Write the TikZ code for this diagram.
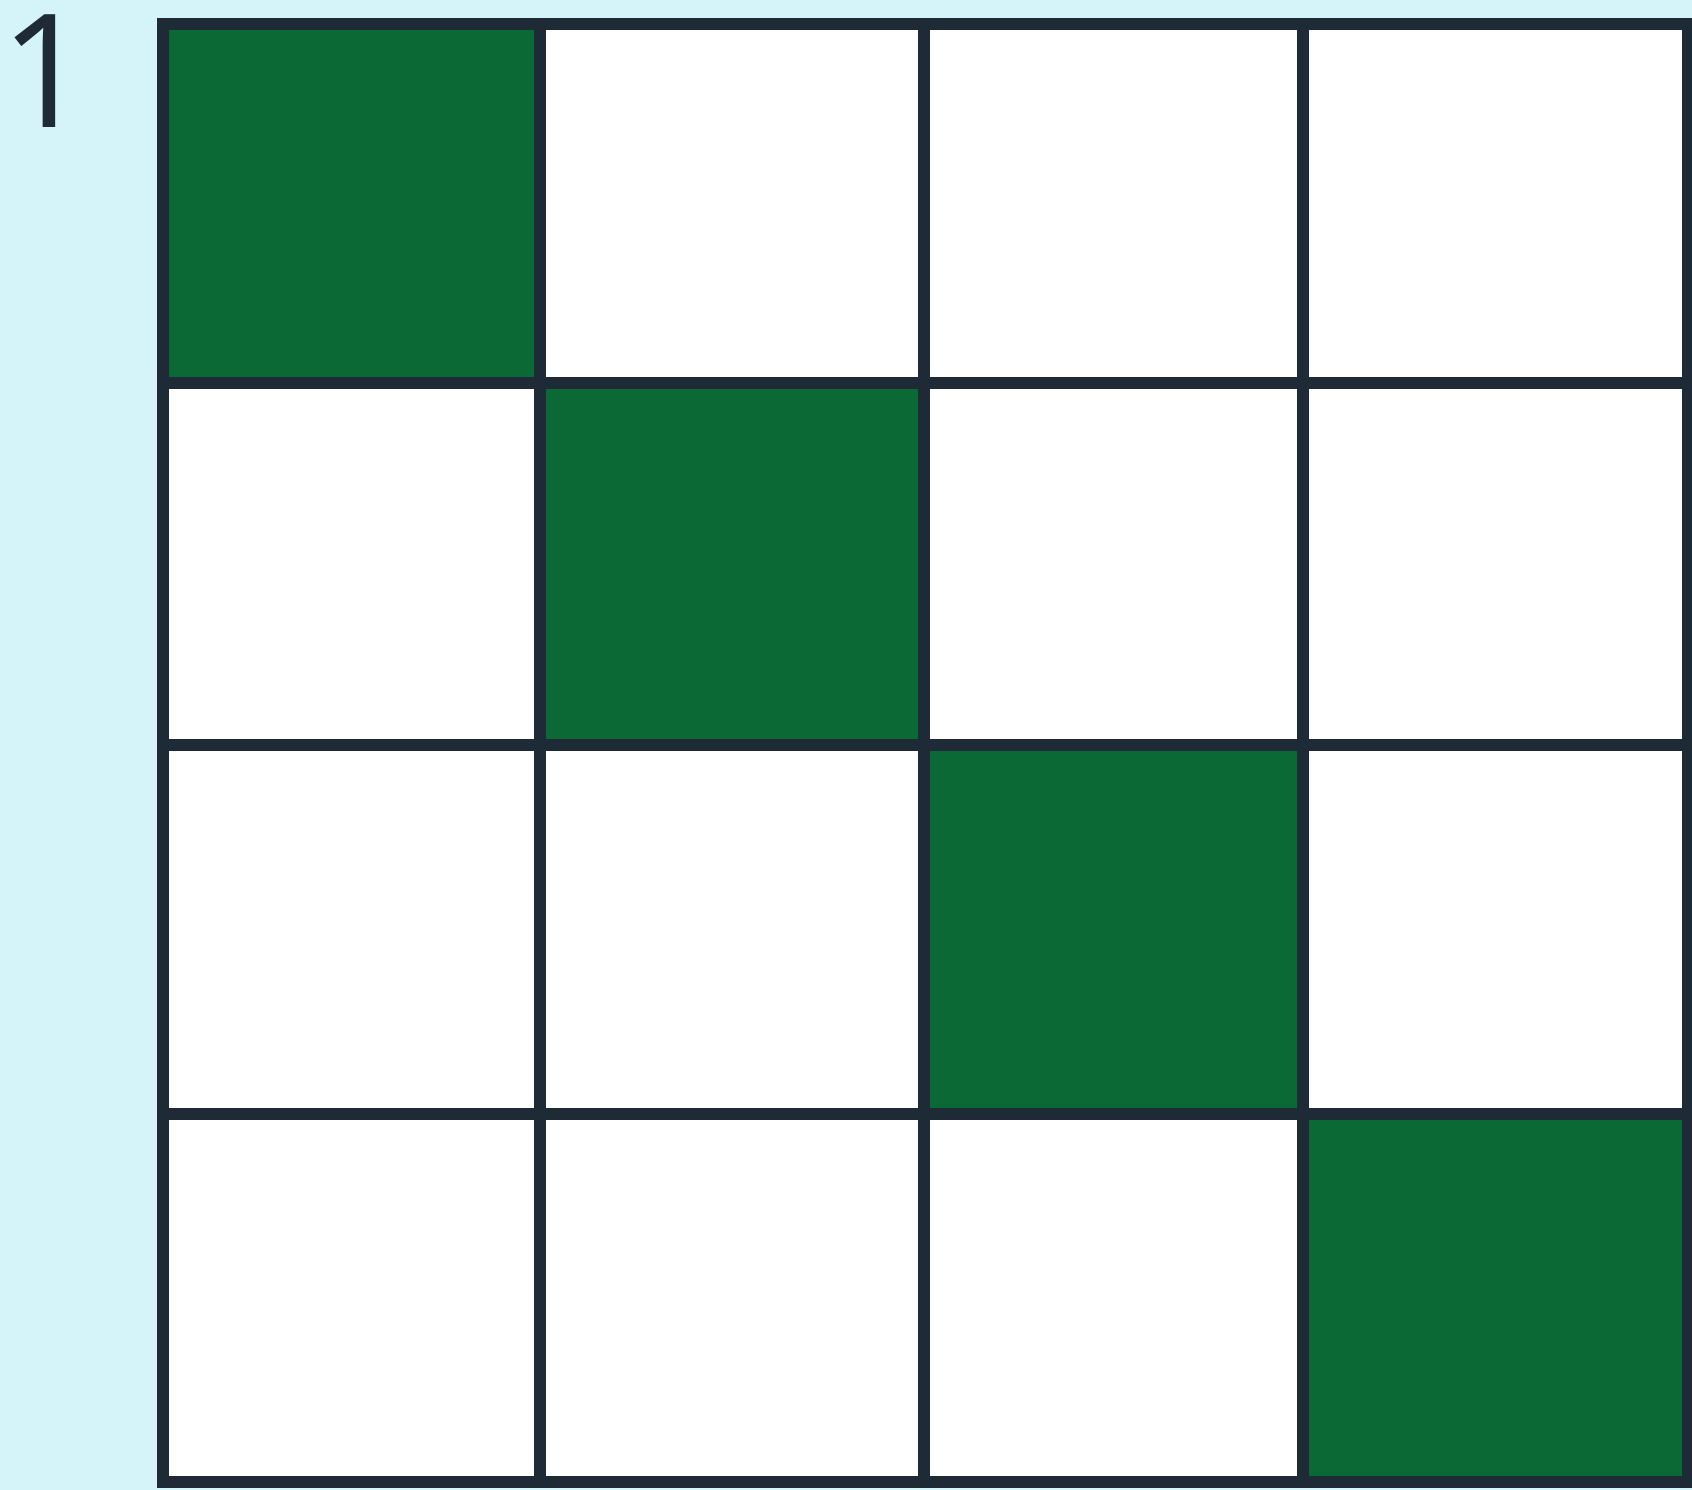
\documentclass[tikz,border=0pt]{standalone}
\usepackage{fontspec}
\setmainfont{Open Sans}
\definecolor{bgcyan}{RGB}{212,244,250}
\definecolor{gridline}{RGB}{30,42,54}
\definecolor{cellgreen}{RGB}{10,105,52}
\begin{document}
\begin{tikzpicture}[x=1pt,y=-1pt,
  gridstyle/.style={draw=gridline,line width=12pt,line cap=rect},
  greencell/.style={fill=cellgreen},
  whitecell/.style={fill=white},
  label/.style={font=\fontsize{158}{158}\selectfont,text=gridline,inner sep=0pt}]
\useasboundingbox (0,0) rectangle (1692,1490);
\fill[bgcyan] (0,0) rectangle (1692,1490);
% cells
\def\xa{163}\def\xb{540}\def\xc{924}\def\xd{1303}\def\xe{1688}
\def\ya{24}\def\yb{383}\def\yc{745}\def\yd{1114}\def\ye{1482}
\fill[whitecell] (\xa,\ya) rectangle (\xe,\ye);
\fill[greencell] (\xa,\ya) rectangle (\xb,\yb);
\fill[greencell] (\xb,\yb) rectangle (\xc,\yc);
\fill[greencell] (\xc,\yc) rectangle (\xd,\yd);
\fill[greencell] (\xd,\yd) rectangle (\xe,\ye);
% grid lines
\foreach \x in {\xa,\xb,\xc,\xd,\xe} \draw[gridstyle] (\x,\ya) -- (\x,\ye);
\foreach \y in {\ya,\yb,\yc,\yd,\ye} \draw[gridstyle] (\xa,\y) -- (\xe,\y);
% label
\node[label,anchor=base] (num) at (46,128) {1};
\end{tikzpicture}
\end{document}
